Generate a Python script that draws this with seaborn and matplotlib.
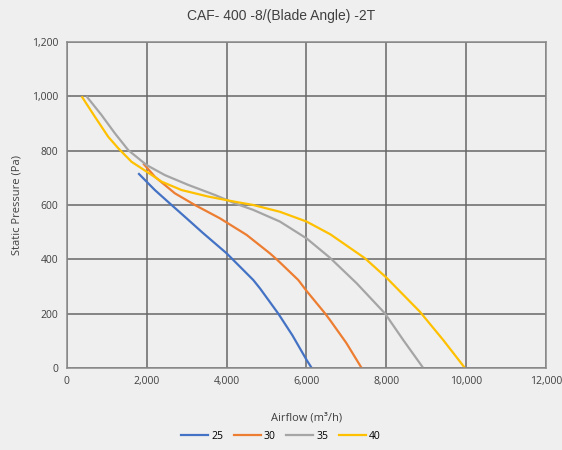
import numpy as np
import pandas as pd
import matplotlib
matplotlib.use("Agg")
import matplotlib.pyplot as plt
import matplotlib.ticker as mticker
from matplotlib.lines import Line2D
import seaborn as sns

# Blade angle series (airflow m3/h, static pressure Pa)
x25 = [1787, 2204, 2622, 2998, 3400, 4002, 4668, 4837, 5296, 5650, 6007, 6132]
y25 = [717, 655, 600, 551, 498, 422, 324, 293, 200, 120, 29, 0]

x30 = [1912, 2204, 2705, 3206, 3833, 4501, 5085, 5255, 5795, 6007, 6466, 6588, 7000, 7382]
y30 = [753, 704, 643, 600, 551, 490, 422, 400, 324, 283, 201, 177, 92, 0]

x35 = [493, 868, 1202, 1537, 1996, 2455, 3039, 3707, 4208, 4668, 5336, 6004, 6588, 7257, 7966, 8425, 8926]
y35 = [1000, 931, 864, 802, 747, 710, 674, 637, 606, 582, 539, 477, 406, 312, 201, 103, 0]

x40 = [370, 701, 1036, 1286, 1620, 1996, 2371, 2873, 3541, 4208, 4668, 5336, 6004, 6600, 7465, 8008, 8843, 9426, 9970]
y40 = [1000, 925, 851, 809, 759, 723, 686, 655, 631, 612, 600, 575, 539, 492, 404, 332, 207, 103, 0]

labels = ["25", "30", "35", "40"]
colors = ["#4472C4", "#ED7D31", "#A5A5A5", "#FFC000"]

frames = []
for lab, xs, ys in zip(labels, [x25, x30, x35, x40], [y25, y30, y35, y40]):
    frames.append(pd.DataFrame({"Airflow": xs, "Pressure": ys, "Angle": lab}))
df = pd.concat(frames, ignore_index=True)

bg = "#EFEFEF"
fig = plt.figure(figsize=(5.62, 4.5), dpi=100, facecolor=bg)
ax = fig.add_axes([0.119, 0.1822, 0.8525, 0.7245])
ax.set_facecolor(bg)

sns.lineplot(data=df, x="Airflow", y="Pressure", hue="Angle", palette=colors,
             sort=False, estimator=None, linewidth=1.6, ax=ax, legend=False)
for ln in ax.lines:
    ln.set_solid_joinstyle("round")
    ln.set_solid_capstyle("butt")

ax.set_xlim(0, 12000)
ax.set_ylim(0, 1200)
ax.xaxis.set_major_locator(mticker.MultipleLocator(2000))
ax.yaxis.set_major_locator(mticker.MultipleLocator(200))
ax.xaxis.set_major_formatter(mticker.FuncFormatter(lambda v, p: f"{int(v):,}"))
ax.yaxis.set_major_formatter(mticker.FuncFormatter(lambda v, p: f"{int(v):,}"))
ax.grid(True, color="#666666", linewidth=1.1)
ax.set_axisbelow(True)
for s in ax.spines.values():
    s.set_color("#8A8A8A")
    s.set_linewidth(1.1)
ax.tick_params(length=0, labelsize=7.5, colors="#404040", pad=6)
for t in ax.get_xticklabels() + ax.get_yticklabels():
    t.set_family("Open Sans")

ax.set_xlabel("Airflow (m³/h)", fontsize=8, family="Open Sans", color="#404040", labelpad=18)
ax.set_ylabel("Static Pressure (Pa)", fontsize=8, family="Open Sans", color="#404040", labelpad=7)
fig.text(0.5, 0.965, "CAF- 400 -8/(Blade Angle) -2T", ha="center", va="center",
         fontsize=10, family="Liberation Sans", color="#404040")

handles = [Line2D([0], [0], color=c, lw=1.6) for c in colors]
fig.legend(handles, labels, loc="center", bbox_to_anchor=(0.5, 0.03), ncol=4,
           frameon=False, handlelength=2.6, handletextpad=0.3,
           columnspacing=1.0, prop={"family": "Open Sans", "size": 7.5})

fig.savefig("out.png", dpi=100, facecolor=bg)
